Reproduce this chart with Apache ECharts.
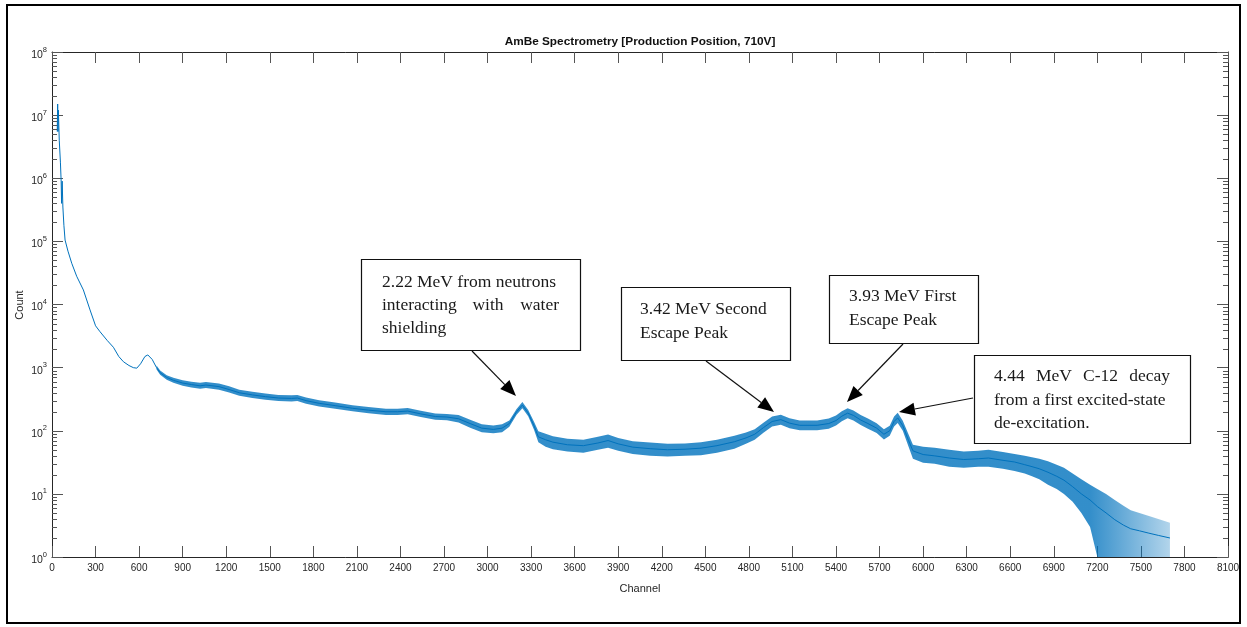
<!DOCTYPE html>
<html>
<head>
<meta charset="utf-8">
<script src="https://cdn.jsdelivr.net/npm/echarts@6/dist/echarts.min.js"></script>
<style>
  html, body { margin: 0; padding: 0; background: #fff; }
  #chart { width: 1247px; height: 627px; }
</style>
</head>
<body>
<div id="chart"></div>
<script>
// AmBe gamma spectrum: channel vs. count (log scale)
const channels = [
  36, 39, 41, 44, 50, 58, 63, 66, 70, 75,
  82, 90, 110, 136, 170, 216, 262, 300, 331, 380,
  423, 460, 492, 530, 560, 584, 610, 640, 660, 690,
  720, 745, 790, 836, 900, 960, 1020, 1060, 1150, 1220,
  1290, 1380, 1470, 1560, 1650, 1690, 1750, 1840, 1950, 2070,
  2180, 2300, 2380, 2450, 2540, 2640, 2720, 2800, 2880, 2960,
  3040, 3100, 3150, 3200, 3240, 3280, 3320, 3350, 3400, 3450,
  3550, 3660, 3760, 3830, 3900, 4000, 4120, 4240, 4360, 4470,
  4580, 4700, 4780, 4840, 4900, 4960, 5020, 5080, 5150, 5270,
  5350, 5400, 5440, 5480, 5520, 5570, 5620, 5680, 5730, 5770,
  5800, 5825, 5860, 5900, 5930, 6000, 6080, 6180, 6280, 6380,
  6450, 6550, 6630, 6700, 6750, 6800, 6860, 6920, 6970, 7030,
  7090, 7150, 7200, 7260, 7320, 7380, 7430, 7490, 7550, 7620,
  7700
];

const counts = [
  5.5e6, 1.5e7, 5.5e6, 1.2e7, 4e6, 1.8e6, 9e5, 4e5, 9e5, 3.5e5,
  1.8e5, 1.05e5, 7e4, 4.5e4, 2.8e4, 1.7e4, 8.2e3, 4.6e3, 3.7e3, 2.7e3,
  2.1e3, 1.5e3, 1240, 1080, 1000, 980, 1150, 1500, 1590, 1350,
  1000, 830, 700, 630, 570, 540, 515, 530, 500, 450,
  400, 370, 347, 330, 325, 330, 300, 272, 250, 227,
  212, 200, 200, 205, 185, 168, 165, 155, 130, 110,
  105, 110, 130, 200, 255, 190, 120, 80, 72, 66,
  60, 58, 64, 70, 62, 55, 52, 50, 51, 53,
  58, 67, 77, 88, 112, 140, 150, 132, 122, 122,
  130, 145, 170, 190, 175, 148, 130, 110, 88, 100,
  140, 160, 120, 70, 48, 42, 40, 37, 35, 36,
  37, 34, 32, 29, 27, 25, 22, 19, 16.5, 13,
  10, 8, 6.3, 5, 3.9, 3.2, 2.8, 2.6, 2.4, 2.2,
  2
];

// Lower / upper edge of the statistical noise around the trace
const noiseLow = [
  null, null, null, null, null, null, null, null, null, null,
  null, null, null, null, null, null, null, null, null, null,
  null, null, null, null, null, null, null, null, null, null,
  930, 770, 645, 575, 515, 485, 462, 475, 447, 402,
  357, 330, 310, 295, 290, 295, 268, 243, 223, 203,
  189, 178, 178, 183, 165, 150, 147, 135, 112, 95,
  91, 95, 116, 180, 228, 170, 104, 66, 56, 51,
  47, 45, 50, 54, 48, 43, 40, 39, 40, 41,
  45, 52, 62, 72, 93, 117, 125, 110, 102, 102,
  108, 121, 142, 158, 146, 123, 108, 92, 73, 83,
  117, 133, 100, 56, 36, 31, 30, 27, 26, 27,
  27, 25, 23, 21, 19, 17, 14, 12, 10, 7.5,
  5, 3, 1, 1, 1, 1, 1, 1, 1, 1,
  1
];

const noiseHigh = [
  null, null, null, null, null, null, null, null, null, null,
  null, null, null, null, null, null, null, null, null, null,
  null, null, null, null, null, null, null, null, null, null,
  1080, 900, 760, 690, 630, 600, 575, 592, 560, 505,
  448, 415, 390, 370, 365, 370, 336, 305, 280, 254,
  237, 224, 224, 230, 207, 188, 185, 178, 150, 127,
  121, 127, 146, 222, 285, 213, 139, 98, 90, 82,
  75, 72, 80, 87, 77, 68, 65, 62, 63, 66,
  72, 83, 94, 106, 134, 168, 180, 158, 146, 146,
  156, 174, 204, 228, 210, 178, 156, 132, 106, 120,
  168, 192, 144, 87, 60, 56, 54, 50, 47, 48,
  50, 46, 43, 40, 38, 36, 33, 29, 26, 21,
  17, 14, 12, 10, 8, 6.5, 5.5, 5, 4.5, 4,
  3.5
];

// Channel where the counts thin out into isolated single-count spikes
const sparseFrom = 7150;

// Axis ranges and tick settings
const xMin = 0, xMax = 8100, xStep = 300;
const yExpMin = 0, yExpMax = 8;
const minorMultipliers = [2, 3, 4, 5, 6, 7, 8, 9];

const LINE_BLUE = '#0072BD';
const AXIS_GREY = '#262626';

const traceData = channels.map((c, i) => [c, counts[i]]);

// minor log ticks (2..9 per decade)
const minorTicks = [];
for (let e = yExpMin; e < yExpMax; e++) {
  minorMultipliers.forEach(m => minorTicks.push([xMin, m * Math.pow(10, e)]));
}

const chart = echarts.init(document.getElementById('chart'), null, { renderer: 'canvas' });

const grid = { left: 52, top: 52, right: 19, bottom: 70 };

function xAxisDef(pos, showLabels) {
  return {
    type: 'value', position: pos, min: xMin, max: xMax, interval: xStep,
    axisLine: { show: true, onZero: false, lineStyle: { color: AXIS_GREY, width: 1 } },
    axisTick: { show: true, inside: true, length: 11, lineStyle: { color: '#555', width: 1 } },
    axisLabel: { show: showLabels, color: AXIS_GREY, fontSize: 10, margin: 6,
                 fontFamily: 'Liberation Sans, Arial, sans-serif',
                 formatter: v => String(v) },
    splitLine: { show: false }
  };
}

function yAxisDef(pos, showLabels) {
  return {
    type: 'log', logBase: 10, position: pos,
    min: Math.pow(10, yExpMin), max: Math.pow(10, yExpMax), interval: 1,
    axisLine: { show: true, onZero: false, lineStyle: { color: AXIS_GREY, width: 1 } },
    axisTick: { show: true, inside: true, length: 11, lineStyle: { color: '#555', width: 1 } },
    axisLabel: {
      show: showLabels, margin: 5,
      formatter: v => '{b|10}{s|' + Math.round(Math.log10(v)) + '}',
      rich: {
        b: { fontSize: 10.5, color: AXIS_GREY, fontFamily: 'Liberation Sans, Arial, sans-serif', padding: [6, 0, 0, 0] },
        s: { fontSize: 7.5, color: AXIS_GREY, fontFamily: 'Liberation Sans, Arial, sans-serif', padding: [0, 0, 5, 0] }
      }
    },
    splitLine: { show: false }
  };
}

// text annotation pieces
const SERIF = '17.5px "Liberation Serif", "Times New Roman", serif';
function txt(x, y, s, align) {
  return { type: 'text', x: x, y: y, z: 20,
           style: { text: s, font: SERIF, fill: '#1a1a1a', align: align || 'left', verticalAlign: 'middle' } };
}
function box(x, y, w, h) {
  return { type: 'rect', z: 19, shape: { x: x + 0.5, y: y + 0.5, width: w, height: h },
           style: { fill: '#fff', stroke: '#111', lineWidth: 1.2 } };
}
function arrow(x1, y1, x2, y2) {
  const dx = x2 - x1, dy = y2 - y1, len = Math.sqrt(dx * dx + dy * dy);
  const ux = dx / len, uy = dy / len, head = 16, half = 6.5;
  const bx = x2 - ux * head, by = y2 - uy * head;
  return [
    { type: 'line', z: 20, shape: { x1: x1, y1: y1, x2: bx, y2: by }, style: { stroke: '#111', lineWidth: 1.2 } },
    { type: 'polygon', z: 20, shape: { points: [[x2, y2], [bx - uy * half, by + ux * half], [bx + uy * half, by - ux * half]] },
      style: { fill: '#000' } }
  ];
}

const annotations = [].concat(
  [box(361, 259, 219, 91),
   txt(382, 282, '2.22 MeV from neutrons'),
   txt(382, 305, 'interacting'), txt(488, 305, 'with', 'center'), txt(559, 305, 'water', 'right'),
   txt(382, 328, 'shielding')],
  arrow(472, 351, 516, 396),
  [box(621, 287, 169, 73),
   txt(640, 309, '3.42 MeV Second'),
   txt(640, 333, 'Escape Peak')],
  arrow(706, 361, 774, 412),
  [box(829, 275, 149, 68),
   txt(849, 296, '3.93 MeV First'),
   txt(849, 320, 'Escape Peak')],
  arrow(903, 344, 847, 402),
  [box(974, 355, 216, 88),
   txt(994, 376, '4.44'), txt(1036, 376, 'MeV'), txt(1083, 376, 'C-12'), txt(1170, 376, 'decay', 'right'),
   txt(994, 400, 'from a first excited-state'),
   txt(994, 423, 'de-excitation.')],
  arrow(973, 398, 899, 412)
);

const option = {
  animation: false,
  backgroundColor: '#fff',
  grid: grid,
  xAxis: [xAxisDef('bottom', true), xAxisDef('top', false)],
  yAxis: [yAxisDef('left', true), yAxisDef('right', false)],
  series: [
    {
      // noise band around the trace, fading where the counts become sparse
      type: 'custom', xAxisIndex: 0, yAxisIndex: 0, z: 2, silent: true,
      data: [[xMin, 1]],
      renderItem: function (params, api) {
        const upper = [], lower = [];
        channels.forEach((c, i) => {
          if (noiseLow[i] == null) return;
          upper.push(api.coord([c, noiseHigh[i]]));
          lower.push(api.coord([c, noiseLow[i]]));
        });
        const x0 = upper[0][0], x1 = upper[upper.length - 1][0];
        const xs = api.coord([sparseFrom, 1])[0];
        const k = (xs - x0) / (x1 - x0);
        const fill = new echarts.graphic.LinearGradient(x0, 0, x1, 0, [
          { offset: 0, color: 'rgba(0,114,189,0.8)' },
          { offset: k, color: 'rgba(0,114,189,0.8)' },
          { offset: 1, color: 'rgba(0,114,189,0.3)' }
        ], true);
        return { type: 'polygon', shape: { points: upper.concat(lower.reverse()) },
                 style: { fill: fill } };
      }
    },
    {
      type: 'line', xAxisIndex: 0, yAxisIndex: 0, z: 3,
      data: traceData, showSymbol: false, symbol: 'none',
      lineStyle: { color: LINE_BLUE, width: 1 }
    },
    {
      // minor log ticks on left and right edges
      type: 'custom', xAxisIndex: 0, yAxisIndex: 0, z: 4, silent: true,
      data: minorTicks,
      renderItem: function (params, api) {
        const v = api.value(1);
        const pl = api.coord([xMin, v]), pr = api.coord([xMax, v]);
        const y = Math.round(pl[1]) + 0.5;
        return { type: 'group', children: [
          { type: 'line', shape: { x1: pl[0], y1: y, x2: pl[0] + 5, y2: y }, style: { stroke: '#555', lineWidth: 1 } },
          { type: 'line', shape: { x1: pr[0] - 5, y1: y, x2: pr[0], y2: y }, style: { stroke: '#555', lineWidth: 1 } }
        ] };
      }
    }
  ],
  graphic: [
    { type: 'rect', z: 1, shape: { x: 7, y: 5, width: 1233, height: 618 },
      style: { fill: 'none', stroke: '#000', lineWidth: 2 } },
    { type: 'text', x: 640, y: 42, z: 10,
      style: { text: 'AmBe Spectrometry [Production Position, 710V]',
               font: 'bold 11.8px "Liberation Sans", Arial, sans-serif', fill: '#111',
               align: 'center', verticalAlign: 'middle' } },
    { type: 'text', x: 640, y: 589, z: 10,
      style: { text: 'Channel', font: '11px "Liberation Sans", Arial, sans-serif', fill: AXIS_GREY,
               align: 'center', verticalAlign: 'middle' } },
    { type: 'text', x: 20, y: 305, rotation: Math.PI / 2, z: 10,
      style: { text: 'Count', font: '11px "Liberation Sans", Arial, sans-serif', fill: AXIS_GREY,
               align: 'center', verticalAlign: 'middle' } }
  ].concat(annotations)
};

chart.setOption(option);
</script>
</body>
</html>
